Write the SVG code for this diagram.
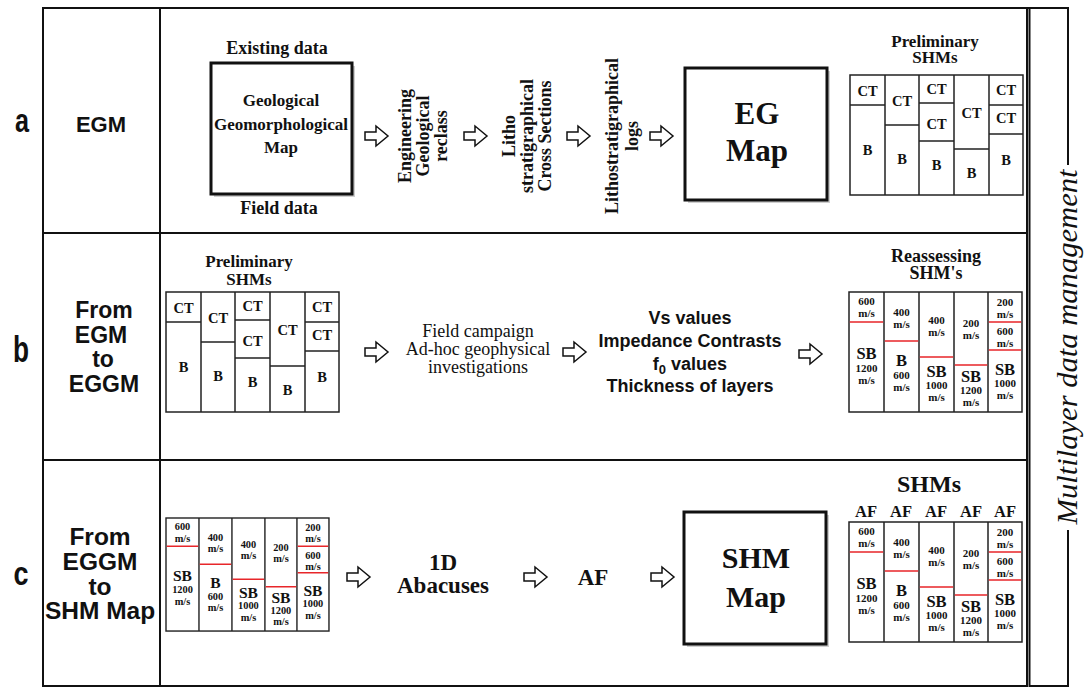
<svg xmlns="http://www.w3.org/2000/svg" width="1088" height="688" viewBox="0 0 1088 688">
<style>
.frame{fill:none;stroke:#111;stroke-width:2}
.cell{fill:none;stroke:#222;stroke-width:1.5}
.red{fill:none;stroke:#e8262a;stroke-width:1.6}
.box{fill:#fff;stroke:#111;stroke-width:3}
.shadow{fill:#cfcfcf}
.sf{font-family:"Liberation Serif","Times New Roman",serif;font-weight:bold;fill:#111}
.sr{font-family:"Liberation Serif","Times New Roman",serif;fill:#111}
.ss{font-family:"Liberation Sans",Arial,sans-serif;font-weight:bold;fill:#111}
.c{text-anchor:middle}
.s12{font-family:"Liberation Serif","Times New Roman",serif;font-weight:bold;font-size:11px;text-anchor:middle;fill:#111}
.big{font-size:16.5px}
.ct{font-family:"Liberation Serif","Times New Roman",serif;font-weight:bold;font-size:14.5px;text-anchor:middle;fill:#111}
.arrow{fill:#fff;stroke:#111;stroke-width:1.5;stroke-linejoin:miter}
</style>
<defs>
<path id="arr" d="M0,-4H11V-10L23,0L11,10V4H0Z"/>
</defs>
<rect width="1088" height="688" fill="#fff"/>

<g id="frame">
<path class="frame" d="M43,8H1027V686H43Z"/>
<path class="frame" d="M160,8V686M43,233H1027M43,460H1027"/>
<path class="frame" d="M1027,8H1068V165M1068,530V686H1029.5V8"/>
</g>

<g id="row-labels">
<text class="ss" x="22" y="132" font-size="33" text-anchor="middle" textLength="14" lengthAdjust="spacingAndGlyphs">a</text>
<text class="ss" x="21" y="362" font-size="36" text-anchor="middle" textLength="16" lengthAdjust="spacingAndGlyphs">b</text>
<text class="ss" x="21" y="585" font-size="33" text-anchor="middle" textLength="15" lengthAdjust="spacingAndGlyphs">c</text>
</g>

<g id="step-labels">
<text class="ss c" x="101" y="132" font-size="22">EGM</text>
<text class="ss c" font-size="23"><tspan x="104" y="318">From</tspan><tspan x="101" y="343">EGM</tspan><tspan x="103" y="367">to</tspan><tspan x="104" y="392">EGGM</tspan></text>
<text class="ss c" font-size="24.5"><tspan x="100" y="545">From</tspan><tspan x="100" y="570">EGGM</tspan><tspan x="100" y="595">to</tspan><tspan x="100" y="619">SHM Map</tspan></text>
</g>

<g id="multilayer">
<text class="sr" font-style="italic" font-size="30" text-anchor="middle" transform="translate(1077,347) rotate(-90)" textLength="355" lengthAdjust="spacingAndGlyphs">Multilayer data management</text>
</g>

<g id="geo-map">
<text class="sf c" x="277" y="54" font-size="18">Existing data</text>
<rect class="shadow" x="214" y="66" width="141" height="131"/>
<rect class="box" x="211" y="63" width="141" height="131"/>
<text class="sf c" font-size="17"><tspan x="281" y="106">Geological</tspan><tspan x="281" y="130">Geomorphological</tspan><tspan x="281" y="153">Map</tspan></text>
<text class="sf c" x="279" y="214" font-size="18">Field data</text>
</g>

<g id="eng-geo-reclass">
<text class="sf c" font-size="18" transform="translate(423,136) rotate(-90)"><tspan x="0" y="-12.5">Engineering</tspan><tspan x="0" y="5.5">Geological</tspan><tspan x="0" y="23.5">reclass</tspan></text>
</g>
<g id="litho-cross">
<text class="sf c" font-size="18" transform="translate(527,136) rotate(-90)"><tspan x="0" y="-12.5">Litho</tspan><tspan x="0" y="5.5">stratigraphical</tspan><tspan x="0" y="23.5">Cross Sections</tspan></text>
</g>
<g id="litho-logs">
<text class="sf c" font-size="18" transform="translate(622,136) rotate(-90)"><tspan x="0" y="-4.5">Lithostratigraphical</tspan><tspan x="0" y="15.5">logs</tspan></text>
</g>

<g id="eg-map">
<rect class="shadow" x="688" y="71" width="142" height="132"/>
<rect class="box" x="685" y="68" width="142" height="132"/>
<text class="sf c" font-size="31"><tspan x="757" y="124">EG</tspan><tspan x="757" y="161">Map</tspan></text>
</g>

<g id="prelim-a">
<text class="sf c" font-size="17"><tspan x="935" y="47">Preliminary</tspan><tspan x="935" y="63">SHMs</tspan></text>
<g transform="translate(850,75)">
<rect class="cell" x="0" y="0" width="173" height="120"/>
<path class="cell" d="M35,0V120M69,0V120M104,0V120M139,0V120M0,30H35M35,50H69M69,28H104M69,66H104M104,74H139M139,30H173M139,59H173"/>
<text class="ct" x="17.5" y="21">CT</text><text class="ct" x="17.5" y="80">B</text>
<text class="ct" x="52" y="31">CT</text><text class="ct" x="52" y="89">B</text>
<text class="ct" x="86.5" y="19">CT</text><text class="ct" x="86.5" y="54">CT</text><text class="ct" x="86.5" y="95">B</text>
<text class="ct" x="121.5" y="43">CT</text><text class="ct" x="121.5" y="103">B</text>
<text class="ct" x="156" y="20">CT</text><text class="ct" x="156" y="48">CT</text><text class="ct" x="156" y="90">B</text>
</g>
</g>

<g id="prelim-b">
<text class="sf c" font-size="17"><tspan x="249" y="267">Preliminary</tspan><tspan x="249" y="285">SHMs</tspan></text>
<g transform="translate(166,292)">
<rect class="cell" x="0" y="0" width="173" height="120"/>
<path class="cell" d="M35,0V120M69,0V120M104,0V120M139,0V120M0,30H35M35,50H69M69,28H104M69,66H104M104,74H139M139,30H173M139,59H173"/>
<text class="ct" x="17.5" y="21">CT</text><text class="ct" x="17.5" y="80">B</text>
<text class="ct" x="52" y="31">CT</text><text class="ct" x="52" y="89">B</text>
<text class="ct" x="86.5" y="19">CT</text><text class="ct" x="86.5" y="54">CT</text><text class="ct" x="86.5" y="95">B</text>
<text class="ct" x="121.5" y="43">CT</text><text class="ct" x="121.5" y="103">B</text>
<text class="ct" x="156" y="20">CT</text><text class="ct" x="156" y="48">CT</text><text class="ct" x="156" y="90">B</text>
</g>
</g>

<g id="field-campaign">
<text class="sr c" font-size="18"><tspan x="478" y="337">Field campaign</tspan><tspan x="478" y="355">Ad-hoc geophysical</tspan><tspan x="478" y="373">investigations</tspan></text>
</g>

<g id="parameters">
<text class="ss c" font-size="18"><tspan x="690" y="324">Vs values</tspan><tspan x="690" y="347">Impedance Contrasts</tspan><tspan x="690" y="370">f<tspan font-size="13" dy="4">0</tspan><tspan dy="-4"> values</tspan></tspan><tspan x="690" y="392">Thickness of layers</tspan></text>
</g>

<g id="reassessing">
<text class="sf c" font-size="18"><tspan x="936" y="262">Reassessing</tspan><tspan x="936" y="279">SHM's</tspan></text>
<g transform="translate(849,292)">
<rect class="cell" x="0" y="0" width="173" height="120"/>
<path class="cell" d="M35,0V120M70,0V120M105,0V120M139,0V120"/>
<path class="red" d="M0.8,30H34.2M35.8,49H69.2M70.8,65H104.2M105.8,73H138.2M139.8,30H172.2M139.8,58H172.2"/>
<text class="s12"><tspan x="17.5" y="13">600</tspan><tspan x="17.5" y="25">m/s</tspan></text>
<text class="s12"><tspan class="big" x="17.5" y="67">SB</tspan><tspan x="17.5" y="80">1200</tspan><tspan x="17.5" y="92">m/s</tspan></text>
<text class="s12"><tspan x="52.5" y="24">400</tspan><tspan x="52.5" y="36">m/s</tspan></text>
<text class="s12"><tspan class="big" x="52.5" y="74">B</tspan><tspan x="52.5" y="87">600</tspan><tspan x="52.5" y="99">m/s</tspan></text>
<text class="s12"><tspan x="87.5" y="32">400</tspan><tspan x="87.5" y="44">m/s</tspan></text>
<text class="s12"><tspan class="big" x="87.5" y="85">SB</tspan><tspan x="87.5" y="97">1000</tspan><tspan x="87.5" y="109">m/s</tspan></text>
<text class="s12"><tspan x="122" y="35">200</tspan><tspan x="122" y="47">m/s</tspan></text>
<text class="s12"><tspan class="big" x="122" y="90">SB</tspan><tspan x="122" y="102">1200</tspan><tspan x="122" y="114">m/s</tspan></text>
<text class="s12"><tspan x="156" y="14">200</tspan><tspan x="156" y="26">m/s</tspan></text>
<text class="s12"><tspan x="156" y="43">600</tspan><tspan x="156" y="55">m/s</tspan></text>
<text class="s12"><tspan class="big" x="156" y="83">SB</tspan><tspan x="156" y="95">1000</tspan><tspan x="156" y="107">m/s</tspan></text>
</g>
</g>

<g id="eggm-input">
<g transform="translate(166,518) scale(0.942)">
<rect class="cell" x="0" y="0" width="173" height="120"/>
<path class="cell" d="M35,0V120M70,0V120M105,0V120M139,0V120"/>
<path class="red" d="M0.8,30H34.2M35.8,49H69.2M70.8,65H104.2M105.8,73H138.2M139.8,30H172.2M139.8,58H172.2"/>
<text class="s12"><tspan x="17.5" y="13">600</tspan><tspan x="17.5" y="25">m/s</tspan></text>
<text class="s12"><tspan class="big" x="17.5" y="67">SB</tspan><tspan x="17.5" y="80">1200</tspan><tspan x="17.5" y="92">m/s</tspan></text>
<text class="s12"><tspan x="52.5" y="24">400</tspan><tspan x="52.5" y="36">m/s</tspan></text>
<text class="s12"><tspan class="big" x="52.5" y="74">B</tspan><tspan x="52.5" y="87">600</tspan><tspan x="52.5" y="99">m/s</tspan></text>
<text class="s12"><tspan x="87.5" y="32">400</tspan><tspan x="87.5" y="44">m/s</tspan></text>
<text class="s12"><tspan class="big" x="87.5" y="85">SB</tspan><tspan x="87.5" y="97">1000</tspan><tspan x="87.5" y="109">m/s</tspan></text>
<text class="s12"><tspan x="122" y="35">200</tspan><tspan x="122" y="47">m/s</tspan></text>
<text class="s12"><tspan class="big" x="122" y="90">SB</tspan><tspan x="122" y="102">1200</tspan><tspan x="122" y="114">m/s</tspan></text>
<text class="s12"><tspan x="156" y="14">200</tspan><tspan x="156" y="26">m/s</tspan></text>
<text class="s12"><tspan x="156" y="43">600</tspan><tspan x="156" y="55">m/s</tspan></text>
<text class="s12"><tspan class="big" x="156" y="83">SB</tspan><tspan x="156" y="95">1000</tspan><tspan x="156" y="107">m/s</tspan></text>
</g>
</g>

<g id="abacuses">
<text class="sf c" font-size="23"><tspan x="443" y="570">1D</tspan><tspan x="443" y="593">Abacuses</tspan></text>
</g>
<g id="af">
<text class="sf c" x="593" y="585" font-size="23">AF</text>
</g>

<g id="shm-map">
<rect class="shadow" x="687" y="515" width="142" height="132"/>
<rect class="box" x="684" y="512" width="142" height="132"/>
<text class="sf c" font-size="30"><tspan x="756" y="568">SHM</tspan><tspan x="756" y="607">Map</tspan></text>
</g>

<g id="shms">
<text class="sf c" x="929" y="492" font-size="24">SHMs</text>
<text class="sf c" font-size="16.5"><tspan x="866" y="517">AF</tspan><tspan x="901" y="517">AF</tspan><tspan x="936" y="517">AF</tspan><tspan x="971" y="517">AF</tspan><tspan x="1005" y="517">AF</tspan></text>
<g transform="translate(849,522)">
<rect class="cell" x="0" y="0" width="173" height="120"/>
<path class="cell" d="M35,0V120M70,0V120M105,0V120M139,0V120"/>
<path class="red" d="M0.8,30H34.2M35.8,49H69.2M70.8,65H104.2M105.8,73H138.2M139.8,30H172.2M139.8,58H172.2"/>
<text class="s12"><tspan x="17.5" y="13">600</tspan><tspan x="17.5" y="25">m/s</tspan></text>
<text class="s12"><tspan class="big" x="17.5" y="67">SB</tspan><tspan x="17.5" y="80">1200</tspan><tspan x="17.5" y="92">m/s</tspan></text>
<text class="s12"><tspan x="52.5" y="24">400</tspan><tspan x="52.5" y="36">m/s</tspan></text>
<text class="s12"><tspan class="big" x="52.5" y="74">B</tspan><tspan x="52.5" y="87">600</tspan><tspan x="52.5" y="99">m/s</tspan></text>
<text class="s12"><tspan x="87.5" y="32">400</tspan><tspan x="87.5" y="44">m/s</tspan></text>
<text class="s12"><tspan class="big" x="87.5" y="85">SB</tspan><tspan x="87.5" y="97">1000</tspan><tspan x="87.5" y="109">m/s</tspan></text>
<text class="s12"><tspan x="122" y="35">200</tspan><tspan x="122" y="47">m/s</tspan></text>
<text class="s12"><tspan class="big" x="122" y="90">SB</tspan><tspan x="122" y="102">1200</tspan><tspan x="122" y="114">m/s</tspan></text>
<text class="s12"><tspan x="156" y="14">200</tspan><tspan x="156" y="26">m/s</tspan></text>
<text class="s12"><tspan x="156" y="43">600</tspan><tspan x="156" y="55">m/s</tspan></text>
<text class="s12"><tspan class="big" x="156" y="83">SB</tspan><tspan x="156" y="95">1000</tspan><tspan x="156" y="107">m/s</tspan></text>
</g>
</g>

<g id="connectors">
<use href="#arr" class="arrow" x="365" y="136"/>
<use href="#arr" class="arrow" x="464" y="136"/>
<use href="#arr" class="arrow" x="567" y="136"/>
<use href="#arr" class="arrow" x="650" y="136"/>
<use href="#arr" class="arrow" x="365" y="352"/>
<use href="#arr" class="arrow" x="563" y="352"/>
<use href="#arr" class="arrow" x="799" y="354"/>
<use href="#arr" class="arrow" x="347" y="577"/>
<use href="#arr" class="arrow" x="524" y="577"/>
<use href="#arr" class="arrow" x="651" y="577"/>
</g>
</svg>
